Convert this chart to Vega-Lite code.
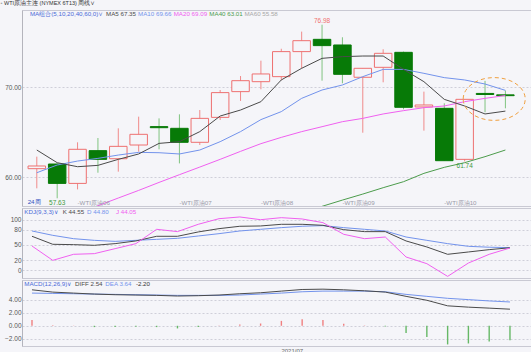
{
  "$schema": "https://vega.github.io/schema/vega-lite/v6.json",
  "padding": 0,
  "background": "#f5f5f9",
  "spacing": 0,
  "resolve": {"scale": {"color": "independent", "fill": "independent", "stroke": "independent"}},
  "title": {"text": "◦ WTI原油主连 (NYMEX 6T13)    周线∨", "anchor": "start", "frame": "bounds", "fontSize": 5.5, "fontWeight": "normal", "color": "#333333", "offset": 3.5, "font": "Liberation Sans"},
  "config": {
    "view": {"stroke": "#c9c9d3", "strokeWidth": 1},
    "axis": {"labelFont": "Liberation Sans", "labelFontSize": 6.5, "labelColor": "#555555", "ticks": false, "gridColor": "#cfcfd9", "gridDash": [2, 2], "domainColor": "#b4b4bc", "title": null, "labelOverlap": false}
  },
  "datasets": {
    "candles": [
      {"i": 1, "o": 60.93, "h": 62.27, "l": 58.74, "c": 61.23, "d": "up", "MA5": 63.01, "MA10": 60.48},
      {"i": 2, "o": 61.45, "h": 61.5, "l": 57.63, "c": 59.29, "d": "down", "MA5": 61.6, "MA10": 61.34},
      {"i": 3, "o": 59.29, "h": 63.87, "l": 58.62, "c": 63.09, "d": "up", "MA5": 61.15, "MA10": 61.78, "MA20": 55.9},
      {"i": 4, "o": 62.94, "h": 64.35, "l": 60.48, "c": 61.97, "d": "down", "MA5": 61.3, "MA10": 62.08, "MA20": 56.8},
      {"i": 5, "o": 62.04, "h": 65.43, "l": 60.6, "c": 63.42, "d": "up", "MA5": 61.97, "MA10": 62.45, "MA20": 57.66},
      {"i": 6, "o": 63.57, "h": 66.73, "l": 62.83, "c": 64.76, "d": "up", "MA5": 62.57, "MA10": 62.75, "MA20": 58.51},
      {"i": 7, "o": 65.62, "h": 66.54, "l": 63.09, "c": 65.5, "d": "down", "MA5": 63.75, "MA10": 62.71, "MA20": 59.4},
      {"i": 8, "o": 65.43, "h": 66.99, "l": 61.52, "c": 63.87, "d": "down", "MA5": 63.94, "MA10": 62.57, "MA20": 60.26},
      {"i": 9, "o": 63.87, "h": 67.47, "l": 63.57, "c": 66.54, "d": "up", "MA5": 65.06, "MA10": 63.01, "MA20": 61.11},
      {"i": 10, "o": 66.65, "h": 69.7, "l": 66.36, "c": 69.41, "d": "up", "MA5": 66.8, "MA10": 63.94, "MA20": 61.97},
      {"i": 11, "o": 69.52, "h": 71.26, "l": 68.48, "c": 70.74, "d": "up", "MA5": 67.47, "MA10": 65.06, "MA20": 62.86},
      {"i": 12, "o": 70.63, "h": 72.97, "l": 69.78, "c": 71.49, "d": "up", "MA5": 68.4, "MA10": 66.4, "MA20": 63.72},
      {"i": 13, "o": 71.19, "h": 74.3, "l": 70.8, "c": 73.98, "d": "up", "MA5": 70.82, "MA10": 67.29, "MA20": 64.42},
      {"i": 14, "o": 73.98, "h": 76.21, "l": 72.12, "c": 75.2, "d": "up", "MA5": 72.12, "MA10": 68.77, "MA20": 65.06, "MA40": 56.0},
      {"i": 15, "o": 75.35, "h": 76.98, "l": 70.74, "c": 74.65, "d": "down", "MA5": 73.23, "MA10": 69.7, "MA20": 65.61, "MA40": 56.73},
      {"i": 16, "o": 74.72, "h": 75.58, "l": 70.45, "c": 71.45, "d": "down", "MA5": 73.42, "MA10": 70.26, "MA20": 66.17, "MA40": 57.43},
      {"i": 17, "o": 71.12, "h": 72.12, "l": 64.94, "c": 72.12, "d": "up", "MA5": 73.49, "MA10": 71.19, "MA20": 66.54, "MA40": 58.1},
      {"i": 18, "o": 72.23, "h": 74.24, "l": 70.56, "c": 73.79, "d": "up", "MA5": 73.49, "MA10": 72.0, "MA20": 67.03, "MA40": 58.81},
      {"i": 19, "o": 73.9, "h": 73.98, "l": 67.55, "c": 67.77, "d": "down", "MA5": 72.0, "MA10": 72.0, "MA20": 67.4, "MA40": 59.48},
      {"i": 20, "o": 67.81, "h": 69.52, "l": 65.17, "c": 68.03, "d": "up", "MA5": 70.63, "MA10": 71.56, "MA20": 67.73, "MA40": 60.41},
      {"i": 21, "o": 67.66, "h": 68.22, "l": 61.8, "c": 61.82, "d": "down", "MA5": 68.66, "MA10": 71.08, "MA20": 67.92, "MA40": 61.08},
      {"i": 22, "o": 61.97, "h": 68.66, "l": 61.74, "c": 68.66, "d": "up", "MA5": 67.92, "MA10": 70.82, "MA20": 68.4, "MA40": 61.6},
      {"i": 23, "o": 69.32, "h": 70.72, "l": 67.22, "c": 69.2, "d": "down", "MA5": 67.03, "MA10": 70.37, "MA20": 68.77, "MA40": 62.27},
      {"i": 24, "o": 69.16, "h": 69.63, "l": 67.66, "c": 69.07, "d": "down", "MA5": 67.35, "MA10": 69.66, "MA20": 69.09, "MA40": 63.01}
    ],
    "ind": [
      {"i": 1, "K": 67.2, "D": 77.7, "J": 48, "DIFF": 5.5, "DEA": 5.0, "M": 0.9},
      {"i": 2, "K": 51.4, "D": 69.1, "J": 19.7, "DIFF": 5.15, "DEA": 4.95, "M": 0.1},
      {"i": 3, "K": 50.7, "D": 62.5, "J": 31.6, "DIFF": 5.0, "DEA": 4.9, "M": 0.03},
      {"i": 4, "K": 49.4, "D": 59.2, "J": 32.9, "DIFF": 4.85, "DEA": 4.85, "M": -0.2},
      {"i": 5, "K": 52.7, "D": 57.2, "J": 42.8, "DIFF": 4.75, "DEA": 4.8, "M": -0.2},
      {"i": 6, "K": 58, "D": 59.2, "J": 52.7, "DIFF": 4.7, "DEA": 4.75, "M": -0.15},
      {"i": 7, "K": 67.2, "D": 61.2, "J": 81, "DIFF": 4.65, "DEA": 4.7, "M": -0.2},
      {"i": 8, "K": 67.2, "D": 63.2, "J": 76.4, "DIFF": 4.55, "DEA": 4.65, "M": -0.4},
      {"i": 9, "K": 75.8, "D": 67.8, "J": 90.9, "DIFF": 4.6, "DEA": 4.65, "M": -0.2},
      {"i": 10, "K": 82.3, "D": 72.4, "J": 102, "DIFF": 4.7, "DEA": 4.65, "M": 0.03},
      {"i": 11, "K": 87, "D": 77.7, "J": 105.4, "DIFF": 4.9, "DEA": 4.7, "M": 0.2},
      {"i": 12, "K": 87.6, "D": 81, "J": 100, "DIFF": 5.05, "DEA": 4.85, "M": 0.35},
      {"i": 13, "K": 90.9, "D": 84.3, "J": 104, "DIFF": 5.3, "DEA": 5.0, "M": 0.75},
      {"i": 14, "K": 90.9, "D": 87, "J": 101.4, "DIFF": 5.55, "DEA": 5.2, "M": 1.0},
      {"i": 15, "K": 88.9, "D": 88.3, "J": 94.2, "DIFF": 5.6, "DEA": 5.3, "M": 0.9},
      {"i": 16, "K": 80.3, "D": 84.3, "J": 71.1, "DIFF": 5.5, "DEA": 5.3, "M": 0.3},
      {"i": 17, "K": 76.4, "D": 81, "J": 62.5, "DIFF": 5.35, "DEA": 5.3, "M": 0.05},
      {"i": 18, "K": 76.4, "D": 77.7, "J": 65.8, "DIFF": 5.15, "DEA": 5.2, "M": -0.1},
      {"i": 19, "K": 58, "D": 65.8, "J": 26.3, "DIFF": 4.5, "DEA": 4.8, "M": -1.1},
      {"i": 20, "K": 46.1, "D": 59.2, "J": 13.1, "DIFF": 3.9, "DEA": 4.5, "M": -1.7},
      {"i": 21, "K": 31.6, "D": 52.7, "J": -12, "DIFF": 3.05, "DEA": 4.2, "M": -2.85},
      {"i": 22, "K": 36.2, "D": 47.4, "J": 14.4, "DIFF": 2.85, "DEA": 4.0, "M": -2.7},
      {"i": 23, "K": 40.8, "D": 45.6, "J": 31.6, "DIFF": 2.7, "DEA": 3.8, "M": -2.4},
      {"i": 24, "K": 44.55, "D": 44.8, "J": 44.05, "DIFF": 2.54, "DEA": 3.64, "M": -2.2}
    ],
    "ptext": [
      {"i": 0.663, "v": 78.17, "t": "MA组合(5,10,20,40,60,0)∨", "s": "MA组合", "a": "l"},
      {"i": 4.4, "v": 78.17, "t": "MA5 67.35", "s": "MA5", "a": "l"},
      {"i": 5.97, "v": 78.17, "t": "MA10 69.66", "s": "MA10", "a": "l"},
      {"i": 7.72, "v": 78.17, "t": "MA20 69.09", "s": "MA20", "a": "l"},
      {"i": 9.47, "v": 78.17, "t": "MA40 63.01", "s": "MA40", "a": "l"},
      {"i": 11.19, "v": 78.17, "t": "MA60 55.58", "s": "MA60", "a": "l"},
      {"i": 0.55, "v": 57.2, "t": "24周", "s": "wk", "a": "l"},
      {"i": 3, "v": 57.13, "t": "-WTI原油06", "s": "ax", "a": "l"},
      {"i": 8, "v": 57.13, "t": "-WTI原油07", "s": "ax", "a": "l"},
      {"i": 12, "v": 57.13, "t": "-WTI原油08", "s": "ax", "a": "l"},
      {"i": 16, "v": 57.13, "t": "-WTI原油09", "s": "ax", "a": "l"},
      {"i": 21, "v": 57.13, "t": "-WTI原油10", "s": "ax", "a": "l"},
      {"i": 15, "v": 77.39, "t": "76.98", "s": "hi", "a": "c"},
      {"i": 2, "v": 57.13, "t": "57.63", "s": "lo", "a": "c"},
      {"i": 22, "v": 61.26, "t": "61.74", "s": "lo", "a": "c"}
    ]
  },
  "vconcat": [
    {
      "width": 510,
      "height": 196,
      "encoding": {
        "x": {"field": "i", "type": "quantitative", "scale": {"domain": [0.519, 25.06], "nice": false, "zero": false}, "axis": null}
      },
      "layer": [
        {
          "data": {"name": "candles"},
          "mark": {"type": "rule", "strokeWidth": 1},
          "encoding": {
            "y": {"field": "l", "type": "quantitative", "scale": {"domain": [56.77, 78.62], "nice": false, "zero": false}, "axis": {"values": [60, 70], "format": ".2f", "grid": true, "labelPadding": 1, "minExtent": 21, "maxExtent": 21, "labelOverlap": false, "labelBound": false}},
            "y2": {"field": "h"},
            "color": {"field": "d", "type": "nominal", "scale": {"domain": ["up", "down", "MA5", "MA10", "MA20", "MA40", "MA60", "MA组合", "wk", "ax", "hi", "lo"], "range": ["#f08a8a", "#80c480", "#4a4a4a", "#7393ec", "#f060f0", "#4c9c4c", "#a8a8a8", "#4a6ad8", "#3050c0", "#9a9aa8", "#f07070", "#3f9a3f"]}, "legend": null}
          }
        },
        {
          "data": {"name": "candles"},
          "mark": {"type": "bar", "size": 17.5, "strokeWidth": 1},
          "encoding": {
            "y": {"field": "o", "type": "quantitative", "scale": {"domain": [56.77, 78.62], "nice": false, "zero": false}, "axis": {"values": [60, 70], "format": ".2f", "grid": true, "labelPadding": 1, "minExtent": 21, "maxExtent": 21, "labelOverlap": false, "labelBound": false}},
            "y2": {"field": "c"},
            "fill": {"field": "d", "type": "nominal", "scale": {"domain": ["up", "down"], "range": ["#f5f5f9", "#077a07"]}, "legend": null},
            "stroke": {"field": "d", "type": "nominal", "scale": {"domain": ["up", "down"], "range": ["#ee7070", "#077a07"]}, "legend": null}
          }
        },
        {
          "data": {"name": "candles"},
          "transform": [{"fold": ["MA40", "MA20", "MA10", "MA5"], "as": ["s", "v"]}],
          "mark": {"type": "line", "strokeWidth": 1, "clip": true},
          "encoding": {
            "y": {"field": "v", "type": "quantitative", "scale": {"domain": [56.77, 78.62], "nice": false, "zero": false}, "axis": {"values": [60, 70], "format": ".2f", "grid": true, "labelPadding": 1, "minExtent": 21, "maxExtent": 21, "labelOverlap": false, "labelBound": false}},
            "color": {"field": "s", "type": "nominal", "legend": null}
          }
        },
        {
          "data": {"name": "ptext"},
          "transform": [{"filter": "datum.a == 'l'"}],
          "mark": {"type": "text", "align": "left", "baseline": "middle", "font": "Liberation Sans", "fontSize": 6.2},
          "encoding": {
            "y": {"field": "v", "type": "quantitative", "scale": {"domain": [56.77, 78.62], "nice": false, "zero": false}, "axis": {"values": [60, 70], "format": ".2f", "grid": true, "labelPadding": 1, "minExtent": 21, "maxExtent": 21, "labelOverlap": false, "labelBound": false}},
            "text": {"field": "t"},
            "color": {"field": "s", "type": "nominal", "legend": null}
          }
        },
        {
          "data": {"name": "ptext"},
          "transform": [{"filter": "datum.a == 'c'"}],
          "mark": {"type": "text", "align": "center", "baseline": "middle", "font": "Liberation Sans", "fontSize": 6.5},
          "encoding": {
            "y": {"field": "v", "type": "quantitative", "scale": {"domain": [56.77, 78.62], "nice": false, "zero": false}, "axis": {"values": [60, 70], "format": ".2f", "grid": true, "labelPadding": 1, "minExtent": 21, "maxExtent": 21, "labelOverlap": false, "labelBound": false}},
            "text": {"field": "t"},
            "color": {"field": "s", "type": "nominal", "legend": null}
          }
        },
        {
          "data": {"values": [{"i": 23.45, "v": 68.7}]},
          "mark": {"type": "point", "shape": "M -1 0 A 1 0.69 0 1 1 1 0 A 1 0.69 0 1 1 -1 0 Z", "size": 3844, "filled": false, "stroke": "#f0a040", "strokeWidth": 1, "strokeDash": [4, 3], "opacity": 1},
          "encoding": {
            "y": {"field": "v", "type": "quantitative", "scale": {"domain": [56.77, 78.62], "nice": false, "zero": false}, "axis": {"values": [60, 70], "format": ".2f", "grid": true, "labelPadding": 1, "minExtent": 21, "maxExtent": 21, "labelOverlap": false, "labelBound": false}}
          }
        }
      ]
    },
    {
      "width": 510,
      "height": 70,
      "data": {"name": "ind"},
      "encoding": {
        "x": {"field": "i", "type": "quantitative", "scale": {"domain": [0.519, 25.06], "nice": false, "zero": false}, "axis": null}
      },
      "layer": [
        {
          "transform": [{"fold": ["D", "K", "J"], "as": ["s", "v"]}],
          "mark": {"type": "line", "strokeWidth": 1, "clip": true},
          "encoding": {
            "y": {"field": "v", "type": "quantitative", "scale": {"domain": [-15.2, 123.1], "nice": false, "zero": false}, "axis": {"values": [0, 20, 50, 80, 100], "format": "d", "grid": true, "labelPadding": 1, "minExtent": 21, "maxExtent": 21, "labelOverlap": false, "labelBound": false}},
            "color": {"field": "s", "type": "nominal", "scale": {"domain": ["K", "D", "J", "KDJ", "V"], "range": ["#4a4a4a", "#7393ec", "#f060f0", "#4a6ad8", "#333333"]}, "legend": null}
          }
        },
        {
          "data": {"values": [
            {"i": 0.63, "v": 115.2, "t": "KDJ(9,3,3)∨", "s": "KDJ"},
            {"i": 2.48, "v": 115.2, "t": "K 44.55", "s": "K"},
            {"i": 3.65, "v": 115.2, "t": "D 44.80", "s": "D"},
            {"i": 5.04, "v": 115.2, "t": "J 44.05", "s": "J"}
          ]},
          "mark": {"type": "text", "align": "left", "baseline": "middle", "font": "Liberation Sans", "fontSize": 6.2},
          "encoding": {
            "y": {"field": "v", "type": "quantitative", "scale": {"domain": [-15.2, 123.1], "nice": false, "zero": false}, "axis": {"values": [0, 20, 50, 80, 100], "format": "d", "grid": true, "labelPadding": 1, "minExtent": 21, "maxExtent": 21, "labelOverlap": false, "labelBound": false}},
            "text": {"field": "t"},
            "color": {"field": "s", "type": "nominal", "legend": null}
          }
        }
      ]
    },
    {
      "width": 510,
      "height": 66,
      "data": {"name": "ind"},
      "encoding": {
        "x": {"field": "i", "type": "quantitative", "scale": {"domain": [0.519, 25.06], "nice": false, "zero": false}, "axis": {"values": [13.5], "labelExpr": "'2021/07'", "domain": false, "grid": false, "labelPadding": 1, "labelFontSize": 6, "labelColor": "#666666", "labelBaseline": "top"}}
      },
      "layer": [
        {
          "mark": {"type": "rule", "strokeWidth": 1.4},
          "encoding": {
            "y": {"field": "M", "type": "quantitative", "scale": {"domain": [-3.09, 7.0], "nice": false, "zero": false}, "axis": {"values": [-2, 0, 2, 4], "format": ".2f", "grid": true, "labelPadding": 1, "minExtent": 21, "maxExtent": 21, "labelOverlap": false, "labelBound": false}},
            "y2": {"datum": 0},
            "color": {"condition": {"test": "datum.M >= 0", "value": "#f08080"}, "value": "#66b866"}
          }
        },
        {
          "transform": [{"fold": ["DEA", "DIFF"], "as": ["s", "v"]}],
          "mark": {"type": "line", "strokeWidth": 1, "clip": true},
          "encoding": {
            "y": {"field": "v", "type": "quantitative", "scale": {"domain": [-3.09, 7.0], "nice": false, "zero": false}, "axis": {"values": [-2, 0, 2, 4], "format": ".2f", "grid": true, "labelPadding": 1, "minExtent": 21, "maxExtent": 21, "labelOverlap": false, "labelBound": false}},
            "color": {"field": "s", "type": "nominal", "scale": {"domain": ["DIFF", "DEA", "MACD", "V"], "range": ["#4a4a4a", "#7393ec", "#4a6ad8", "#333333"]}, "legend": null}
          }
        },
        {
          "data": {"values": [
            {"i": 0.63, "v": 6.4, "t": "MACD(12,26,9)∨", "s": "MACD"},
            {"i": 3.07, "v": 6.4, "t": "DIFF 2.54", "s": "DIFF"},
            {"i": 4.53, "v": 6.4, "t": "DEA 3.64", "s": "DEA"},
            {"i": 6.0, "v": 6.4, "t": "-2.20", "s": "V"}
          ]},
          "mark": {"type": "text", "align": "left", "baseline": "middle", "font": "Liberation Sans", "fontSize": 6.2},
          "encoding": {
            "y": {"field": "v", "type": "quantitative", "scale": {"domain": [-3.09, 7.0], "nice": false, "zero": false}, "axis": {"values": [-2, 0, 2, 4], "format": ".2f", "grid": true, "labelPadding": 1, "minExtent": 21, "maxExtent": 21, "labelOverlap": false, "labelBound": false}},
            "text": {"field": "t"},
            "color": {"field": "s", "type": "nominal", "legend": null}
          }
        }
      ]
    }
  ]
}
